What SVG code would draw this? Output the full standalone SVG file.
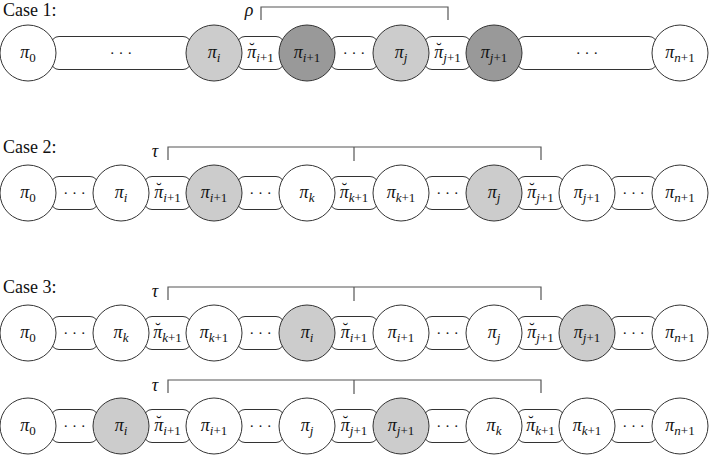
<svg xmlns="http://www.w3.org/2000/svg" width="709" height="455" viewBox="0 0 709 455">
<style>
.c{fill:#fff;stroke:#333;stroke-width:1}
.L{fill:#cccccc}
.D{fill:#999999}
.r{fill:#fff;stroke:#333;stroke-width:1}
.t{font-family:"Liberation Serif","Times New Roman","DejaVu Serif",serif;font-size:18px;text-anchor:middle;fill:#111}
.i{font-style:italic}
.s{font-size:13px}
.bv{font-size:16px;font-style:normal}
.dots{font-family:"Liberation Serif","DejaVu Serif",serif;font-size:15px;text-anchor:middle;fill:#111}
.case{font-family:"Liberation Serif","Times New Roman","DejaVu Serif",serif;font-size:18px;fill:#111}
.br{fill:none;stroke:#555;stroke-width:1.2}
</style>

<text class="case" x="3" y="16">Case 1:</text>
<text class="case" x="3" y="153">Case 2:</text>
<text class="case" x="3" y="293">Case 3:</text>

<g id="connectors">
<polyline class="br" points="261,20 261,7 448,7 448,20"/>
<text class="t i" x="249" y="16">ρ</text>
<polyline class="br" points="168,160 168,147 541,147 541,160"/>
<line class="br" x1="354" y1="147" x2="354" y2="161"/>
<text class="t i" x="155" y="157">τ</text>
<polyline class="br" points="168,300 168,287 541,287 541,300"/>
<line class="br" x1="354" y1="287" x2="354" y2="301"/>
<text class="t i" x="155" y="297">τ</text>
<polyline class="br" points="168,393 168,380 541,380 541,393"/>
<line class="br" x1="354" y1="380" x2="354" y2="394"/>
<text class="t i" x="155" y="391">τ</text>
</g>

<!-- Row 1 -->
<g id="r1-e1"><rect class="r" x="51" y="36.5" width="140" height="33" rx="8"/><text class="dots" x="121" y="58">· · ·</text></g>
<g id="r1-e2"><rect class="r" x="237" y="36.5" width="47" height="33" rx="8"/><text class="t" x="260.5" y="58"><tspan class="i">π</tspan><tspan class="bv" dx="-7" dy="-4">˘</tspan><tspan class="s" dx="1.7" dy="8"><tspan class="i">i</tspan>+1</tspan></text></g>
<g id="r1-e3"><rect class="r" x="330" y="36.5" width="48" height="33" rx="8"/><text class="dots" x="354" y="58">· · ·</text></g>
<g id="r1-e4"><rect class="r" x="424" y="36.5" width="47" height="33" rx="8"/><text class="t" x="447.5" y="58"><tspan class="i">π</tspan><tspan class="bv" dx="-7" dy="-4">˘</tspan><tspan class="s" dx="1.7" dy="8"><tspan class="i">j</tspan>+1</tspan></text></g>
<g id="r1-e5"><rect class="r" x="517" y="36.5" width="140" height="33" rx="8"/><text class="dots" x="587" y="58">· · ·</text></g>

<g id="r1-n0"><circle class="c" cx="28" cy="53" r="28"/><text class="t" x="28" y="58"><tspan class="i">π</tspan><tspan class="s" dy="4">0</tspan></text></g>
<g id="r1-ni"><circle class="c L" cx="214" cy="53" r="28"/><text class="t" x="214" y="58"><tspan class="i">π</tspan><tspan class="s i" dy="4">i</tspan></text></g>
<g id="r1-ni1"><circle class="c D" cx="307" cy="53" r="28"/><text class="t" x="307" y="58"><tspan class="i">π</tspan><tspan class="s" dy="4"><tspan class="i">i</tspan>+1</tspan></text></g>
<g id="r1-nj"><circle class="c L" cx="401" cy="53" r="28"/><text class="t" x="401" y="58"><tspan class="i">π</tspan><tspan class="s i" dy="4">j</tspan></text></g>
<g id="r1-nj1"><circle class="c D" cx="494" cy="53" r="28"/><text class="t" x="494" y="58"><tspan class="i">π</tspan><tspan class="s" dy="4"><tspan class="i">j</tspan>+1</tspan></text></g>
<g id="r1-nn1"><circle class="c" cx="680" cy="53" r="28"/><text class="t" x="680" y="58"><tspan class="i">π</tspan><tspan class="s" dy="4"><tspan class="i">n</tspan>+1</tspan></text></g>

<!-- Row 2 -->
<g id="r2-e1"><rect class="r" x="51" y="176.5" width="47" height="33" rx="8"/><text class="dots" x="74.5" y="198">· · ·</text></g>
<g id="r2-e2"><rect class="r" x="144" y="176.5" width="47" height="33" rx="8"/><text class="t" x="167.5" y="198"><tspan class="i">π</tspan><tspan class="bv" dx="-7" dy="-4">˘</tspan><tspan class="s" dx="1.7" dy="8"><tspan class="i">i</tspan>+1</tspan></text></g>
<g id="r2-e3"><rect class="r" x="237" y="176.5" width="47" height="33" rx="8"/><text class="dots" x="260.5" y="198">· · ·</text></g>
<g id="r2-e4"><rect class="r" x="330" y="176.5" width="48" height="33" rx="8"/><text class="t" x="354" y="198"><tspan class="i">π</tspan><tspan class="bv" dx="-7" dy="-4">˘</tspan><tspan class="s" dx="1.7" dy="8"><tspan class="i">k</tspan>+1</tspan></text></g>
<g id="r2-e5"><rect class="r" x="424" y="176.5" width="47" height="33" rx="8"/><text class="dots" x="447.5" y="198">· · ·</text></g>
<g id="r2-e6"><rect class="r" x="517" y="176.5" width="47" height="33" rx="8"/><text class="t" x="540.5" y="198"><tspan class="i">π</tspan><tspan class="bv" dx="-7" dy="-4">˘</tspan><tspan class="s" dx="1.7" dy="8"><tspan class="i">j</tspan>+1</tspan></text></g>
<g id="r2-e7"><rect class="r" x="610" y="176.5" width="47" height="33" rx="8"/><text class="dots" x="633.5" y="198">· · ·</text></g>

<g id="r2-n0"><circle class="c" cx="28" cy="193" r="28"/><text class="t" x="28" y="198"><tspan class="i">π</tspan><tspan class="s" dy="4">0</tspan></text></g>
<g id="r2-ni"><circle class="c" cx="121" cy="193" r="28"/><text class="t" x="121" y="198"><tspan class="i">π</tspan><tspan class="s i" dy="4">i</tspan></text></g>
<g id="r2-ni1"><circle class="c L" cx="214" cy="193" r="28"/><text class="t" x="214" y="198"><tspan class="i">π</tspan><tspan class="s" dy="4"><tspan class="i">i</tspan>+1</tspan></text></g>
<g id="r2-nk"><circle class="c" cx="307" cy="193" r="28"/><text class="t" x="307" y="198"><tspan class="i">π</tspan><tspan class="s i" dy="4">k</tspan></text></g>
<g id="r2-nk1"><circle class="c" cx="401" cy="193" r="28"/><text class="t" x="401" y="198"><tspan class="i">π</tspan><tspan class="s" dy="4"><tspan class="i">k</tspan>+1</tspan></text></g>
<g id="r2-nj"><circle class="c L" cx="494" cy="193" r="28"/><text class="t" x="494" y="198"><tspan class="i">π</tspan><tspan class="s i" dy="4">j</tspan></text></g>
<g id="r2-nj1"><circle class="c" cx="587" cy="193" r="28"/><text class="t" x="587" y="198"><tspan class="i">π</tspan><tspan class="s" dy="4"><tspan class="i">j</tspan>+1</tspan></text></g>
<g id="r2-nn1"><circle class="c" cx="680" cy="193" r="28"/><text class="t" x="680" y="198"><tspan class="i">π</tspan><tspan class="s" dy="4"><tspan class="i">n</tspan>+1</tspan></text></g>

<!-- Row 3 -->
<g id="r3-e1"><rect class="r" x="51" y="316.5" width="47" height="33" rx="8"/><text class="dots" x="74.5" y="338">· · ·</text></g>
<g id="r3-e2"><rect class="r" x="144" y="316.5" width="47" height="33" rx="8"/><text class="t" x="167.5" y="338"><tspan class="i">π</tspan><tspan class="bv" dx="-7" dy="-4">˘</tspan><tspan class="s" dx="1.7" dy="8"><tspan class="i">k</tspan>+1</tspan></text></g>
<g id="r3-e3"><rect class="r" x="237" y="316.5" width="47" height="33" rx="8"/><text class="dots" x="260.5" y="338">· · ·</text></g>
<g id="r3-e4"><rect class="r" x="330" y="316.5" width="48" height="33" rx="8"/><text class="t" x="354" y="338"><tspan class="i">π</tspan><tspan class="bv" dx="-7" dy="-4">˘</tspan><tspan class="s" dx="1.7" dy="8"><tspan class="i">i</tspan>+1</tspan></text></g>
<g id="r3-e5"><rect class="r" x="424" y="316.5" width="47" height="33" rx="8"/><text class="dots" x="447.5" y="338">· · ·</text></g>
<g id="r3-e6"><rect class="r" x="517" y="316.5" width="47" height="33" rx="8"/><text class="t" x="540.5" y="338"><tspan class="i">π</tspan><tspan class="bv" dx="-7" dy="-4">˘</tspan><tspan class="s" dx="1.7" dy="8"><tspan class="i">j</tspan>+1</tspan></text></g>
<g id="r3-e7"><rect class="r" x="610" y="316.5" width="47" height="33" rx="8"/><text class="dots" x="633.5" y="338">· · ·</text></g>

<g id="r3-n0"><circle class="c" cx="28" cy="333" r="28"/><text class="t" x="28" y="338"><tspan class="i">π</tspan><tspan class="s" dy="4">0</tspan></text></g>
<g id="r3-nk"><circle class="c" cx="121" cy="333" r="28"/><text class="t" x="121" y="338"><tspan class="i">π</tspan><tspan class="s i" dy="4">k</tspan></text></g>
<g id="r3-nk1"><circle class="c" cx="214" cy="333" r="28"/><text class="t" x="214" y="338"><tspan class="i">π</tspan><tspan class="s" dy="4"><tspan class="i">k</tspan>+1</tspan></text></g>
<g id="r3-ni"><circle class="c L" cx="307" cy="333" r="28"/><text class="t" x="307" y="338"><tspan class="i">π</tspan><tspan class="s i" dy="4">i</tspan></text></g>
<g id="r3-ni1"><circle class="c" cx="401" cy="333" r="28"/><text class="t" x="401" y="338"><tspan class="i">π</tspan><tspan class="s" dy="4"><tspan class="i">i</tspan>+1</tspan></text></g>
<g id="r3-nj"><circle class="c" cx="494" cy="333" r="28"/><text class="t" x="494" y="338"><tspan class="i">π</tspan><tspan class="s i" dy="4">j</tspan></text></g>
<g id="r3-nj1"><circle class="c L" cx="587" cy="333" r="28"/><text class="t" x="587" y="338"><tspan class="i">π</tspan><tspan class="s" dy="4"><tspan class="i">j</tspan>+1</tspan></text></g>
<g id="r3-nn1"><circle class="c" cx="680" cy="333" r="28"/><text class="t" x="680" y="338"><tspan class="i">π</tspan><tspan class="s" dy="4"><tspan class="i">n</tspan>+1</tspan></text></g>

<!-- Row 4 -->
<g id="r4-e1"><rect class="r" x="51" y="409.5" width="47" height="33" rx="8"/><text class="dots" x="74.5" y="431">· · ·</text></g>
<g id="r4-e2"><rect class="r" x="144" y="409.5" width="47" height="33" rx="8"/><text class="t" x="167.5" y="431"><tspan class="i">π</tspan><tspan class="bv" dx="-7" dy="-4">˘</tspan><tspan class="s" dx="1.7" dy="8"><tspan class="i">i</tspan>+1</tspan></text></g>
<g id="r4-e3"><rect class="r" x="237" y="409.5" width="47" height="33" rx="8"/><text class="dots" x="260.5" y="431">· · ·</text></g>
<g id="r4-e4"><rect class="r" x="330" y="409.5" width="48" height="33" rx="8"/><text class="t" x="354" y="431"><tspan class="i">π</tspan><tspan class="bv" dx="-7" dy="-4">˘</tspan><tspan class="s" dx="1.7" dy="8"><tspan class="i">j</tspan>+1</tspan></text></g>
<g id="r4-e5"><rect class="r" x="424" y="409.5" width="47" height="33" rx="8"/><text class="dots" x="447.5" y="431">· · ·</text></g>
<g id="r4-e6"><rect class="r" x="517" y="409.5" width="47" height="33" rx="8"/><text class="t" x="540.5" y="431"><tspan class="i">π</tspan><tspan class="bv" dx="-7" dy="-4">˘</tspan><tspan class="s" dx="1.7" dy="8"><tspan class="i">k</tspan>+1</tspan></text></g>
<g id="r4-e7"><rect class="r" x="610" y="409.5" width="47" height="33" rx="8"/><text class="dots" x="633.5" y="431">· · ·</text></g>

<g id="r4-n0"><circle class="c" cx="28" cy="426" r="28"/><text class="t" x="28" y="431"><tspan class="i">π</tspan><tspan class="s" dy="4">0</tspan></text></g>
<g id="r4-ni"><circle class="c L" cx="121" cy="426" r="28"/><text class="t" x="121" y="431"><tspan class="i">π</tspan><tspan class="s i" dy="4">i</tspan></text></g>
<g id="r4-ni1"><circle class="c" cx="214" cy="426" r="28"/><text class="t" x="214" y="431"><tspan class="i">π</tspan><tspan class="s" dy="4"><tspan class="i">i</tspan>+1</tspan></text></g>
<g id="r4-nj"><circle class="c" cx="307" cy="426" r="28"/><text class="t" x="307" y="431"><tspan class="i">π</tspan><tspan class="s i" dy="4">j</tspan></text></g>
<g id="r4-nj1"><circle class="c L" cx="401" cy="426" r="28"/><text class="t" x="401" y="431"><tspan class="i">π</tspan><tspan class="s" dy="4"><tspan class="i">j</tspan>+1</tspan></text></g>
<g id="r4-nk"><circle class="c" cx="494" cy="426" r="28"/><text class="t" x="494" y="431"><tspan class="i">π</tspan><tspan class="s i" dy="4">k</tspan></text></g>
<g id="r4-nk1"><circle class="c" cx="587" cy="426" r="28"/><text class="t" x="587" y="431"><tspan class="i">π</tspan><tspan class="s" dy="4"><tspan class="i">k</tspan>+1</tspan></text></g>
<g id="r4-nn1"><circle class="c" cx="680" cy="426" r="28"/><text class="t" x="680" y="431"><tspan class="i">π</tspan><tspan class="s" dy="4"><tspan class="i">n</tspan>+1</tspan></text></g>
</svg>
